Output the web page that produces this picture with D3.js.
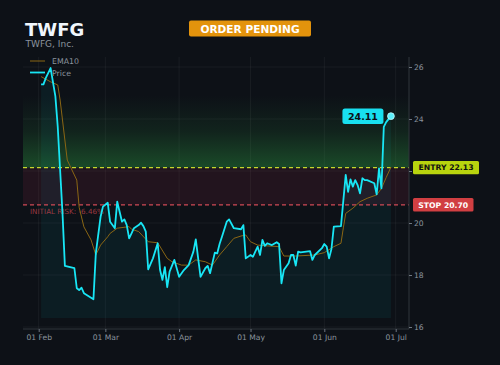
<!DOCTYPE html>
<html><head><meta charset="utf-8">
<script src="https://cdn.jsdelivr.net/npm/d3@7/dist/d3.min.js"></script>
<style>html,body{margin:0;padding:0;background:#0d1117;}svg{display:block;}</style>
</head><body>
<script>
const ticker = "TWFG";
const company = "TWFG, Inc.";
const status = "ORDER PENDING";
const entryPrice = 22.13;
const stopPrice = 20.70;
const lastPrice = 24.11;
const riskText = "INITIAL RISK: -6.46%";

const priceDates = ["2025-02-02","2025-02-03","2025-02-04","2025-02-06","2025-02-08","2025-02-09","2025-02-10","2025-02-11","2025-02-12","2025-02-16","2025-02-17","2025-02-18","2025-02-19","2025-02-20","2025-02-24","2025-02-25","2025-02-27","2025-02-28","2025-03-02","2025-03-03","2025-03-05","2025-03-06","2025-03-07","2025-03-08","2025-03-09","2025-03-10","2025-03-11","2025-03-12","2025-03-13","2025-03-15","2025-03-16","2025-03-17","2025-03-18","2025-03-19","2025-03-21","2025-03-23","2025-03-24","2025-03-25","2025-03-26","2025-03-27","2025-03-28","2025-03-30","2025-04-01","2025-04-03","2025-04-05","2025-04-07","2025-04-08","2025-04-09","2025-04-10","2025-04-12","2025-04-13","2025-04-14","2025-04-16","2025-04-17","2025-04-18","2025-04-19","2025-04-21","2025-04-22","2025-04-24","2025-04-27","2025-04-28","2025-04-29","2025-05-01","2025-05-02","2025-05-03","2025-05-04","2025-05-05","2025-05-06","2025-05-07","2025-05-08","2025-05-10","2025-05-12","2025-05-13","2025-05-14","2025-05-15","2025-05-17","2025-05-18","2025-05-19","2025-05-20","2025-05-21","2025-05-22","2025-05-26","2025-05-27","2025-05-28","2025-05-31","2025-06-01","2025-06-02","2025-06-03","2025-06-04","2025-06-05","2025-06-08","2025-06-10","2025-06-11","2025-06-12","2025-06-13","2025-06-14","2025-06-15","2025-06-16","2025-06-17","2025-06-18","2025-06-19","2025-06-22","2025-06-23","2025-06-24","2025-06-25","2025-06-26","2025-06-27","2025-06-29"];
const priceValues = [25.33,25.33,25.58,25.96,24.88,23.70,22.04,20.38,18.35,18.26,17.49,17.42,17.51,17.30,17.07,18.83,20.24,20.63,20.78,20.05,19.80,20.82,20.43,20.05,20.14,19.92,19.41,19.60,19.80,19.92,20.01,19.88,19.67,18.22,18.64,19.22,18.19,17.81,18.30,17.53,18.13,18.58,17.93,18.19,18.38,18.90,19.37,18.64,17.93,18.26,18.35,18.07,18.86,18.83,19.19,19.47,20.05,20.14,19.80,19.76,19.92,18.64,18.77,18.70,18.90,19.09,18.77,19.35,19.12,19.22,19.15,19.26,19.19,17.68,18.19,18.45,18.77,18.77,18.36,18.90,18.87,18.92,18.58,18.77,19.03,19.19,19.09,18.64,19.00,19.86,19.88,21.85,21.20,21.68,21.40,21.65,21.46,21.14,21.72,21.65,21.65,21.53,21.10,22.10,21.33,23.70,23.88,24.11];

const emaDates = ["2025-02-02","2025-02-06","2025-02-09","2025-02-10","2025-02-13","2025-02-17","2025-02-18","2025-02-20","2025-02-23","2025-02-25","2025-02-27","2025-03-02","2025-03-03","2025-03-06","2025-03-11","2025-03-12","2025-03-15","2025-03-19","2025-03-23","2025-03-27","2025-03-29","2025-04-02","2025-04-05","2025-04-08","2025-04-12","2025-04-15","2025-04-18","2025-04-21","2025-04-24","2025-04-27","2025-04-29","2025-05-01","2025-05-04","2025-05-08","2025-05-13","2025-05-15","2025-05-20","2025-05-28","2025-06-01","2025-06-05","2025-06-08","2025-06-09","2025-06-10","2025-06-13","2025-06-16","2025-06-19","2025-06-23","2025-06-25","2025-06-27","2025-06-29"];
const emaValues = [25.63,25.43,25.31,24.73,22.42,21.65,20.60,19.85,19.35,18.77,19.15,19.47,19.60,19.80,19.86,19.76,19.67,19.28,19.24,18.64,18.51,18.38,18.38,18.58,18.51,18.38,18.77,19.09,19.41,19.50,19.54,19.28,19.15,19.12,19.09,18.73,18.73,18.77,18.86,19.09,19.22,19.81,20.37,20.57,20.82,20.95,21.08,21.33,21.75,22.15];

const monthTicks = ["2025-02-01","2025-03-01","2025-04-01","2025-05-01","2025-06-01","2025-07-01"];
const yTicks = [16,18,20,22,24,26];
const areaBase = 16.35;

const W = 500, H = 365;
const plot = {left: 23, right: 409, top: 57, bottom: 329};
const parse = d3.utcParse("%Y-%m-%d");
const FONT = "DejaVu Sans, sans-serif";

const x = d3.scaleUtc().domain([parse("2025-02-01"), parse("2025-07-01")]).range([38.7, 395.7]);
const y = d3.scaleLinear().domain([16, 26]).range([327, 67]);

const price = priceDates.map((d,i)=>({date: parse(d), v: priceValues[i]}));
const ema = emaDates.map((d,i)=>({date: parse(d), v: emaValues[i]}));

const svg = d3.select("body").append("svg").attr("width", W).attr("height", H);
svg.append("rect").attr("width", W).attr("height", H).attr("fill", "#0d1117");

const defs = svg.append("defs");
const gTop = 24.9;
const g1 = defs.append("linearGradient").attr("id","gz").attr("gradientUnits","userSpaceOnUse")
  .attr("x1",0).attr("x2",0).attr("y1", y(entryPrice)).attr("y2", y(gTop));
g1.append("stop").attr("offset",0).attr("stop-color","#2ea043").attr("stop-opacity",0.4);
g1.append("stop").attr("offset",0.5).attr("stop-color","#2ea043").attr("stop-opacity",0.13);
g1.append("stop").attr("offset",1).attr("stop-color","#2ea043").attr("stop-opacity",0);
defs.append("clipPath").attr("id","clip").append("rect")
  .attr("x", plot.left).attr("y", plot.top).attr("width", plot.right-plot.left).attr("height", plot.bottom-plot.top);

// grid
const grid = svg.append("g").attr("clip-path","url(#clip)");
grid.selectAll("line.h").data(yTicks).join("line")
  .attr("x1", plot.left).attr("x2", plot.right).attr("y1", d=>y(d)).attr("y2", d=>y(d))
  .attr("stroke", "#ffffff").attr("stroke-opacity", 0.05).attr("stroke-width", 1);
grid.selectAll("line.v").data(monthTicks).join("line")
  .attr("x1", d=>x(parse(d))).attr("x2", d=>x(parse(d))).attr("y1", plot.top).attr("y2", plot.bottom)
  .attr("stroke", "#ffffff").attr("stroke-opacity", 0.05).attr("stroke-width", 1);

// zones
svg.append("rect").attr("x", plot.left).attr("width", plot.right-plot.left)
  .attr("y", y(gTop)).attr("height", y(entryPrice)-y(gTop)).attr("fill","url(#gz)");
svg.append("rect").attr("x", plot.left).attr("width", plot.right-plot.left)
  .attr("y", y(entryPrice)).attr("height", y(stopPrice)-y(entryPrice))
  .attr("fill","#b4324a").attr("fill-opacity",0.13);

// area under price
const area = d3.area().x(d=>x(d.date)).y0(y(areaBase)).y1(d=>y(d.v));
svg.append("path").datum(price).attr("d", area).attr("fill","#00e5ff").attr("fill-opacity",0.055);

// entry / stop lines
svg.append("line").attr("x1", plot.left).attr("x2", plot.right)
  .attr("y1", y(entryPrice)).attr("y2", y(entryPrice))
  .attr("stroke","#c6d62c").attr("stroke-width",1.2).attr("stroke-dasharray","4,3");
svg.append("line").attr("x1", plot.left).attr("x2", plot.right)
  .attr("y1", y(stopPrice)).attr("y2", y(stopPrice))
  .attr("stroke","#d04a55").attr("stroke-width",1.2).attr("stroke-dasharray","4,3");

svg.append("text").attr("x", 30).attr("y", y(stopPrice)+9)
  .attr("font-family", FONT).attr("font-size", 7.2).attr("fill","#c84650").attr("fill-opacity",0.75)
  .text(riskText);

// EMA line
const line = d3.line().x(d=>x(d.date)).y(d=>y(d.v));
svg.append("path").datum(ema).attr("d", line).attr("fill","none")
  .attr("stroke","#8a6614").attr("stroke-width",1);

// price line
svg.append("path").datum(price).attr("d", line).attr("fill","none")
  .attr("stroke","#18e6f5").attr("stroke-width",1.8).attr("stroke-linejoin","round");

// last point + label
const last = price[price.length-1];
svg.append("circle").attr("cx", x(last.date)).attr("cy", y(last.v)).attr("r", 3.4)
  .attr("fill","#5cf0fa").attr("stroke","#c8fbff").attr("stroke-width",0.8);
const lblW = 41, lblH = 15.5;
svg.append("rect").attr("x", x(last.date)-48.5).attr("y", y(last.v)-7.7)
  .attr("width", lblW).attr("height", lblH).attr("rx", 2.5).attr("fill","#18e0f0");
svg.append("text").attr("x", x(last.date)-48.5+lblW/2).attr("y", y(last.v)+3.5)
  .attr("text-anchor","middle").attr("font-family", FONT).attr("font-weight","bold")
  .attr("font-size", 9.5).attr("fill","#0d1117").text(lastPrice.toFixed(2));

// axes spines
svg.append("line").attr("x1", plot.right).attr("x2", plot.right).attr("y1", plot.top).attr("y2", plot.bottom)
  .attr("stroke","#30363d").attr("stroke-width",1);
svg.append("line").attr("x1", plot.left).attr("x2", plot.right).attr("y1", plot.bottom).attr("y2", plot.bottom)
  .attr("stroke","#30363d").attr("stroke-width",1);

// right axis
const yAxis = d3.axisRight(y).tickValues(yTicks).tickSize(3).tickPadding(2).tickFormat(d3.format("d"));
const ya = svg.append("g").attr("transform", `translate(${plot.right},0)`).call(yAxis);
ya.select(".domain").remove();
ya.selectAll("line").attr("stroke","#6e7681");
ya.selectAll("text").attr("font-family", FONT).attr("font-size", 7.6).attr("fill","#8b949e");

// bottom axis
const fmt = d3.utcFormat("%d %b");
const xAxis = d3.axisBottom(x).tickValues(monthTicks.map(parse)).tickSize(3).tickPadding(3).tickFormat(fmt);
const xa = svg.append("g").attr("transform", `translate(0,${plot.bottom})`).call(xAxis);
xa.select(".domain").remove();
xa.selectAll("line").attr("stroke","#6e7681");
xa.selectAll("text").attr("font-family", FONT).attr("font-size", 7.6).attr("fill","#8b949e");

// entry / stop tags
function tag(val, txt, bg, fg, w) {
  const cy = y(val);
  svg.append("rect").attr("x", 413).attr("y", cy-6.7).attr("width", w).attr("height", 13.4)
    .attr("rx", 1.5).attr("fill", bg);
  svg.append("text").attr("x", 413 + w/2).attr("y", cy+2.8).attr("text-anchor","middle")
    .attr("font-family", FONT).attr("font-weight","bold").attr("font-size", 7.7).attr("fill", fg).text(txt);
}
tag(entryPrice, "ENTRY " + entryPrice.toFixed(2), "#b8d40e", "#111111", 66);
tag(stopPrice, "STOP " + stopPrice.toFixed(2), "#d13f42", "#ffffff", 60.5);

// legend
const lg = svg.append("g");
lg.append("line").attr("x1", 30).attr("x2", 45).attr("y1", 61).attr("y2", 61).attr("stroke","#8a6614").attr("stroke-width",1);
lg.append("text").attr("x", 52).attr("y", 64).attr("font-family", FONT).attr("font-size", 7.8).attr("fill","#8b949e").text("EMA10");
lg.append("line").attr("x1", 30).attr("x2", 45).attr("y1", 72.5).attr("y2", 72.5).attr("stroke","#18e6f5").attr("stroke-width",1.8);
lg.append("text").attr("x", 52).attr("y", 75.5).attr("font-family", FONT).attr("font-size", 7.8).attr("fill","#8b949e").text("Price");

// title
svg.append("text").attr("x", 25).attr("y", 36).attr("font-family", FONT).attr("font-weight","bold")
  .attr("font-size", 18).attr("fill","#f0f6fc").text(ticker);
svg.append("text").attr("x", 25.5).attr("y", 46.5).attr("font-family", FONT)
  .attr("font-size", 9).attr("fill","#8b949e").text(company);

// status badge
svg.append("rect").attr("x", 189).attr("y", 20.5).attr("width", 122).attr("height", 16).attr("rx", 2)
  .attr("fill","#e3930c");
svg.append("text").attr("x", 250).attr("y", 32.5).attr("text-anchor","middle").attr("font-family", FONT)
  .attr("font-weight","bold").attr("font-size", 10.6).attr("fill","#ffffff").text(status);
</script>
</body></html>
